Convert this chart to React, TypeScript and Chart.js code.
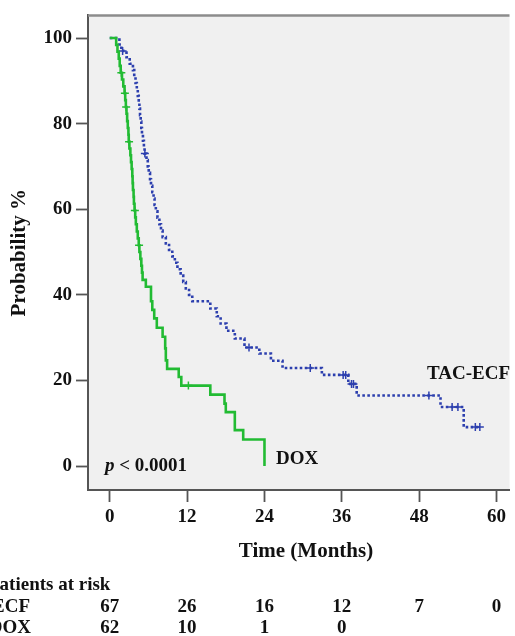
import React, { useEffect, useRef } from 'react';
import { Chart, registerables } from 'chart.js';

Chart.register(...registerables);

const FONT = '"Liberation Serif", "Times New Roman", serif';

const xTicks = [0, 12, 24, 36, 48, 60];
const yTicks = [0, 20, 40, 60, 80, 100];

const groupNames = ['TAC-ECF', 'DOX'];

const tacTimes = [0, 1.5, 1.8, 2.6, 3.1, 3.6, 3.8, 4.0, 4.2, 4.35, 4.5, 4.6, 4.7, 4.8, 4.9, 5.0, 5.15, 5.3, 5.4, 5.7, 5.9, 6.05, 6.25, 6.4, 6.6, 6.8, 6.95, 7.15, 7.4, 7.7, 7.95, 8.2, 8.7, 9.2, 9.7, 10.1, 10.5, 11.0, 11.4, 11.8, 12.3, 12.8, 15.6, 16.6, 17.2, 18.1, 19.4, 20.9, 23.2, 25.0, 26.8, 32.9, 37.0, 38.3, 51.3, 54.9, 57.4];
const tacSurv = [100, 98.5, 97.0, 95.5, 94.0, 92.5, 91.0, 89.5, 88.0, 86.5, 85.0, 83.5, 82.0, 80.5, 79.0, 77.5, 76.0, 74.5, 73.0, 71.5, 70.0, 68.5, 67.0, 65.5, 64.0, 62.5, 61.0, 59.5, 58.0, 56.5, 55.0, 53.5, 52.0, 50.5, 49.0, 47.5, 46.0, 44.5, 43.0, 41.5, 40.0, 38.5, 36.8, 35.0, 33.3, 31.6, 29.8, 27.7, 26.3, 24.6, 22.9, 21.3, 19.2, 16.5, 13.8, 9.1, 9.1];
const tacCensorTimes = [2.0, 5.45, 21.6, 31.1, 36.2, 36.6, 37.5, 37.8, 49.5, 53.1, 54.0, 56.7, 57.4];
const tacCensorSurv = [97.0, 73.0, 27.7, 22.9, 21.3, 21.3, 19.2, 19.2, 16.5, 13.8, 13.8, 9.1, 9.1];

const doxTimes = [0, 1.0, 1.2, 1.4, 1.55, 1.7, 1.9, 2.1, 2.3, 2.4, 2.5, 2.6, 2.7, 2.8, 2.9, 2.95, 3.05, 3.2, 3.3, 3.4, 3.5, 3.55, 3.6, 3.7, 3.75, 3.85, 3.95, 4.05, 4.2, 4.35, 4.5, 4.6, 4.75, 4.9, 5.0, 5.1, 5.6, 6.4, 6.6, 6.9, 7.3, 8.2, 8.6, 8.7, 8.9, 10.7, 11.1, 15.6, 17.8, 18.0, 19.4, 20.7, 24.0];
const doxSurv = [100, 98.4, 96.8, 95.2, 93.5, 91.9, 90.3, 88.7, 87.1, 85.5, 83.9, 82.3, 80.6, 79.0, 77.4, 75.8, 74.2, 72.6, 71.0, 69.4, 67.7, 66.1, 64.5, 62.9, 61.3, 59.7, 58.1, 56.5, 54.8, 53.2, 51.6, 50.0, 48.4, 46.8, 45.2, 43.5, 41.9, 38.5, 36.5, 34.5, 32.3, 30.2, 27.5, 24.7, 22.7, 20.8, 18.8, 16.7, 14.6, 12.6, 8.4, 6.2, 0];
const doxCensorTimes = [1.8, 2.35, 2.55, 3.0, 3.9, 4.55, 12.2];
const doxCensorSurv = [91.9, 87.1, 83.9, 75.8, 59.7, 51.6, 18.8];

const riskTac = [67, 26, 16, 12, 7, 0];
const riskDox = [62, 10, 1, 0];

const BLUE = '#2c3fae';
const GREEN = '#22bb33';
const AXIS = '#555555';

const pts = (xs: number[], ys: number[]) => xs.map((x, i) => ({ x, y: ys[i] }));

const decor = {
  id: 'decor',
  beforeDraw(chart: any) {
    const { ctx, chartArea: a } = chart;
    ctx.save();
    ctx.fillStyle = '#f0f0f0';
    ctx.fillRect(a.left, a.top, a.right - a.left, a.bottom - a.top);
    ctx.restore();
  },
  afterDraw(chart: any) {
    const { ctx, chartArea: a, scales } = chart;
    const xs = scales.x;
    const ys = scales.y;
    ctx.save();
    // top frame
    ctx.strokeStyle = '#8c8c8c';
    ctx.lineWidth = 2.5;
    ctx.beginPath();
    ctx.moveTo(a.left, a.top);
    ctx.lineTo(a.right, a.top);
    ctx.stroke();

    ctx.fillStyle = '#111';
    ctx.textBaseline = 'middle';
    // axis titles
    ctx.font = `bold 21px ${FONT}`;
    ctx.textAlign = 'center';
    ctx.fillText('Time (Months)', 306, 552);
    ctx.save();
    ctx.translate(20, (a.top + a.bottom) / 2);
    ctx.rotate(-Math.PI / 2);
    ctx.fillText('Probability %', 0, 0);
    ctx.restore();

    // p value
    ctx.textAlign = 'left';
    ctx.font = `italic bold 19px ${FONT}`;
    const px = 105;
    const py = ys.getPixelForValue(0);
    ctx.fillText('p', px, py);
    const pw = ctx.measureText('p').width;
    ctx.font = `bold 19px ${FONT}`;
    ctx.fillText(' < 0.0001', px + pw, py);

    // group labels
    ctx.fillText(groupNames[0], 427, ys.getPixelForValue(21.5));
    ctx.fillText(groupNames[1], 276, ys.getPixelForValue(1.6));

    // risk table
    ctx.textAlign = 'left';
    ctx.fillText('Patients at risk', -12, 585);
    ctx.textAlign = 'right';
    ctx.fillText(groupNames[0], 30, 607);
    ctx.fillText(groupNames[1], 31, 628);
    ctx.textAlign = 'center';
    riskTac.forEach((v, i) => ctx.fillText(String(v), xs.getPixelForValue(xTicks[i]), 607));
    riskDox.forEach((v, i) => ctx.fillText(String(v), xs.getPixelForValue(xTicks[i]), 628));
    ctx.restore();
  },
};

export default function App() {
  const ref = useRef<HTMLCanvasElement>(null);
  useEffect(() => {
    if (!ref.current) return;
    const chart = new Chart(ref.current, {
      type: 'line',
      data: {
        datasets: [
          {
            label: groupNames[1],
            data: pts(doxTimes, doxSurv),
            borderColor: GREEN,
            borderWidth: 2.6,
            stepped: true,
            pointRadius: 0,
            fill: false,
          },
          {
            label: groupNames[0],
            data: pts(tacTimes, tacSurv),
            borderColor: BLUE,
            borderWidth: 2.6,
            borderDash: [2.6, 2.4],
            stepped: true,
            pointRadius: 0,
            fill: false,
          },
          {
            label: groupNames[1] + ' censored',
            data: pts(doxCensorTimes, doxCensorSurv),
            showLine: false,
            pointStyle: 'cross',
            pointRadius: 4,
            pointBorderWidth: 1.5,
            borderColor: GREEN,
            backgroundColor: GREEN,
          },
          {
            label: groupNames[0] + ' censored',
            data: pts(tacCensorTimes, tacCensorSurv),
            showLine: false,
            pointStyle: 'cross',
            pointRadius: 4,
            pointBorderWidth: 1.5,
            borderColor: BLUE,
            backgroundColor: BLUE,
          },
        ],
      },
      options: {
        animation: false,
        responsive: false,
        devicePixelRatio: 1,
        layout: { padding: { top: 14, right: 0, left: 0, bottom: 0 } },
        plugins: { legend: { display: false }, tooltip: { enabled: false } },
        scales: {
          x: {
            type: 'linear',
            min: -3.37,
            max: 62.0,
            afterBuildTicks: (s: any) => { s.ticks = xTicks.map((v) => ({ value: v })); },
            afterFit: (s: any) => { s.height = 146; },
            grid: { drawOnChartArea: false, drawTicks: true, tickLength: 12, tickColor: AXIS, tickWidth: 1.8 },
            border: { display: true, color: AXIS, width: 2 },
            ticks: { color: '#111', padding: 4, autoSkip: false, maxRotation: 0, font: { family: FONT, size: 19, weight: 'bold' } },
          },
          y: {
            type: 'linear',
            min: -5.59,
            max: 105.29,
            afterBuildTicks: (s: any) => { s.ticks = yTicks.map((v) => ({ value: v })); },
            afterFit: (s: any) => { s.width = 88; },
            grid: { drawOnChartArea: false, drawTicks: true, tickLength: 12, tickColor: AXIS, tickWidth: 1.8 },
            border: { display: true, color: AXIS, width: 2 },
            ticks: { color: '#111', padding: 4, font: { family: FONT, size: 19, weight: 'bold' } },
          },
        },
      },
      plugins: [decor],
    } as any);
    return () => chart.destroy();
  }, []);
  return (
    <div style={{ position: 'fixed', left: 0, top: 0, width: 515, height: 636, background: '#fff' }}>
      <canvas ref={ref} width={515} height={636} style={{ display: 'block' }} />
    </div>
  );
}
